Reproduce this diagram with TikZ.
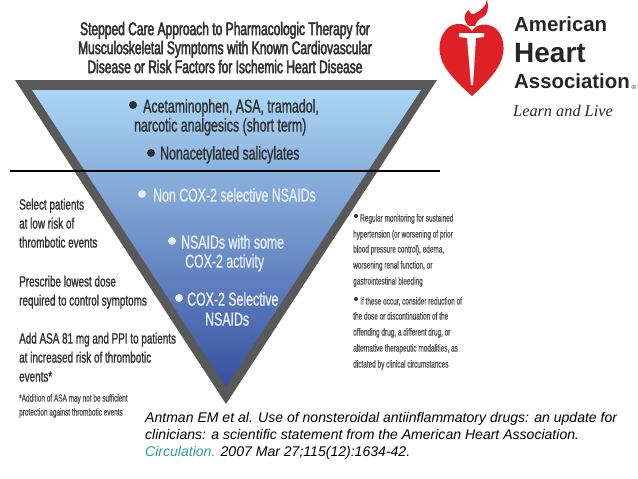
\documentclass[tikz,border=0pt]{standalone}
\usepackage{fontspec}
\usetikzlibrary{positioning}
\setmainfont{Liberation Sans}
\newfontfamily\narrowfont[FakeStretch=0.66,FakeBold=1.0]{Liberation Sans}
\newfontfamily\titlefont[FakeStretch=0.66,FakeBold=2.4]{Liberation Sans}
\newfontfamily\tinyfont[FakeStretch=0.62,FakeBold=0.7]{Liberation Sans}
\newfontfamily\logofont{Liberation Sans}
\newfontfamily\learnfont{Liberation Serif}
\definecolor{rimgray}{HTML}{595959}
\definecolor{bandlight}{HTML}{ABD6F5}
\definecolor{bandmid}{HTML}{6C99D4}
\definecolor{banddark}{HTML}{35509F}
\definecolor{inktext}{HTML}{303030}
\definecolor{palewhite}{HTML}{E6EDF7}
\definecolor{ahared}{HTML}{DF2127}
\definecolor{citeteal}{HTML}{2A9CA5}
\begin{document}
\begin{tikzpicture}[
    x=1pt, y=-1pt,
    line/.style={anchor=west, inner sep=0pt, yshift=-2pt, text height=0.72em, text depth=0.2em},
    head/.style={anchor=center, inner sep=0pt, yshift=-3.5pt, text height=0.72em, text depth=0.2em, font=\titlefont\fontsize{18.2}{18.2}\selectfont, text=inktext},
    body/.style={line, yshift=-2pt, font=\narrowfont\fontsize{18.7}{18.7}\selectfont, text=inktext},
    bodypale/.style={body, text=palewhite},
    side/.style={line, yshift=-1pt, font=\narrowfont\fontsize{15}{15}\selectfont, text=inktext},
    fine/.style={line, font=\tinyfont\fontsize{10.4}{10.4}\selectfont, text=inktext!85},
    dotmark/.style={circle, inner sep=0pt, minimum size=8pt, fill=#1},
    logotext/.style={line, font=\logofont, text=black!85},
    cite/.style={line, yshift=-0.5pt, font=\itshape\fontsize{14.05}{14.05}\selectfont, text=black}
]
\useasboundingbox[fill=white] (0,0) rectangle (638,479);
% inverted triangle
\fill[rimgray] (15,80) -- (437,80) -- (226,404) -- cycle;
\shade[top color=bandlight, middle color=bandmid, bottom color=banddark] (32,90) -- (421,90) -- (226,387) -- cycle;
\draw[black, line width=1.8pt] (10,171) -- (440,171);
% title
\foreach \r/\yy/\linetext in {
  1/29/Stepped Care Approach to Pharmacologic Therapy for,
  2/48/Musculoskeletal Symptoms with Known Cardiovascular,
  3/67/Disease or Risk Factors for Ischemic Heart Disease}{
    \node[head] (title\r) at (225,\yy) {\linetext};
}
% inside the triangle
\node[dotmark=inktext] (dot1) at (133,105) {};
\node[body] (drug1) at (143,106) {Acetaminophen, ASA, tramadol,};
\node[body] (drug2) at (134,125) {narcotic analgesics (short term)};
\node[dotmark=inktext] (dot2) at (151,153) {};
\node[body] (drug3) at (160,153) {Nonacetylated salicylates};
\node[dotmark=palewhite] (dot3) at (142,194) {};
\node[bodypale] (drug4) at (153,195) {Non COX-2 selective NSAIDs};
\node[dotmark=palewhite] (dot4) at (172,241) {};
\node[bodypale] (drug5) at (181,242) {NSAIDs with some};
\node[bodypale] (drug6) at (185,261) {COX-2 activity};
\node[dotmark=palewhite] (dot5) at (179,298) {};
\node[bodypale] (drug7) at (187,299) {COX-2 Selective};
\node[bodypale] (drug8) at (205,319) {NSAIDs};
% left column
\foreach \r/\yy/\linetext in {
  1/204/Select patients,
  2/223/at low risk of,
  3/242/thrombotic events,
  4/281/Prescribe lowest dose,
  5/300/required to control symptoms,
  6/338/Add ASA 81 mg and PPI to patients,
  7/357/at increased risk of thrombotic,
  8/376/events*}{
    \node[side] (left\r) at (19,\yy) {\linetext};
}
\node[fine] (left9) at (19,397) {*Addition of ASA may not be sufficient};
\node[fine] (left10) at (19,411) {protection against thrombotic events};
% right column
\node[dotmark=inktext, minimum size=4pt] (dot6) at (356,216) {};
\node[dotmark=inktext, minimum size=4pt] (dot7) at (356,299) {};
\foreach \r/\xx/\yy/\linetext in {
  1/360/217/Regular monitoring for sustained,
  2/353/233/hypertension (or worsening of prior,
  3/353/248/{blood pressure control), edema,},
  4/353/264/{worsening renal function, or},
  5/353/280/gastrointestinal bleeding,
  6/360/300/{If these occur, consider reduction of},
  7/353/315/the dose or discontinuation of the,
  8/353/331/{offending drug, a different drug, or},
  9/353/347/{alternative therapeutic modalities, as},
  10/353/363/dictated by clinical circumstances}{
    \node[fine] (right\r) at (\xx,\yy) {\linetext};
}
% logo
\fill[ahared] (472,31) .. controls (467,23) and (456,22) .. (449,27)
    .. controls (441,33) and (437,46) .. (441,58)
    .. controls (445,72) and (461,86) .. (472,96)
    .. controls (483,86) and (498,72) .. (502,58)
    .. controls (506,46) and (502,33) .. (495,28)
    .. controls (488,23) and (477,23) .. (472,31) -- cycle;
\fill[ahared] (469,26) .. controls (463,21) and (463,14) .. (469,10)
    .. controls (470,14) and (472,15) .. (474,14)
    .. controls (480,11) and (486,7) .. (487,0)
    .. controls (489,8) and (488,14) .. (483,17)
    .. controls (479,19) and (476,22) .. (475,26) -- cycle;
\fill[white] (459,33) -- (484,33) -- (484,37) -- (476,38) -- (473,85) -- (471,85) -- (467,38) -- (459,37) -- cycle;
\node[logotext, font=\logofont\bfseries\fontsize{20.4}{20.4}\selectfont] (american) at (514,26.5) {American};
\node[logotext, font=\logofont\bfseries\fontsize{28}{28}\selectfont] (heart) at (514,58) {Heart};
\node[logotext, font=\logofont\bfseries\fontsize{20.4}{20.4}\selectfont] (association) at (514,83.5) {Association};
\node[logotext, font=\logofont\fontsize{6}{6}\selectfont] (regmark) at (631.5,85) {®};
\node[logotext, font=\learnfont\itshape\fontsize{16.3}{16.3}\selectfont] (learn) at (513,111.5) {Learn and Live};
% citation
\node[cite] (cite1) at (145,417) {Antman EM et al. Use of nonsteroidal antiinflammatory drugs: an update for};
\node[cite] (cite2) at (145,434) {clinicians: a scientific statement from the American Heart Association.};
\node[cite] (cite3) at (145,451) {\textcolor{citeteal}{Circulation.} 2007 Mar 27;115(12):1634-42.};
\end{tikzpicture}
\end{document}
